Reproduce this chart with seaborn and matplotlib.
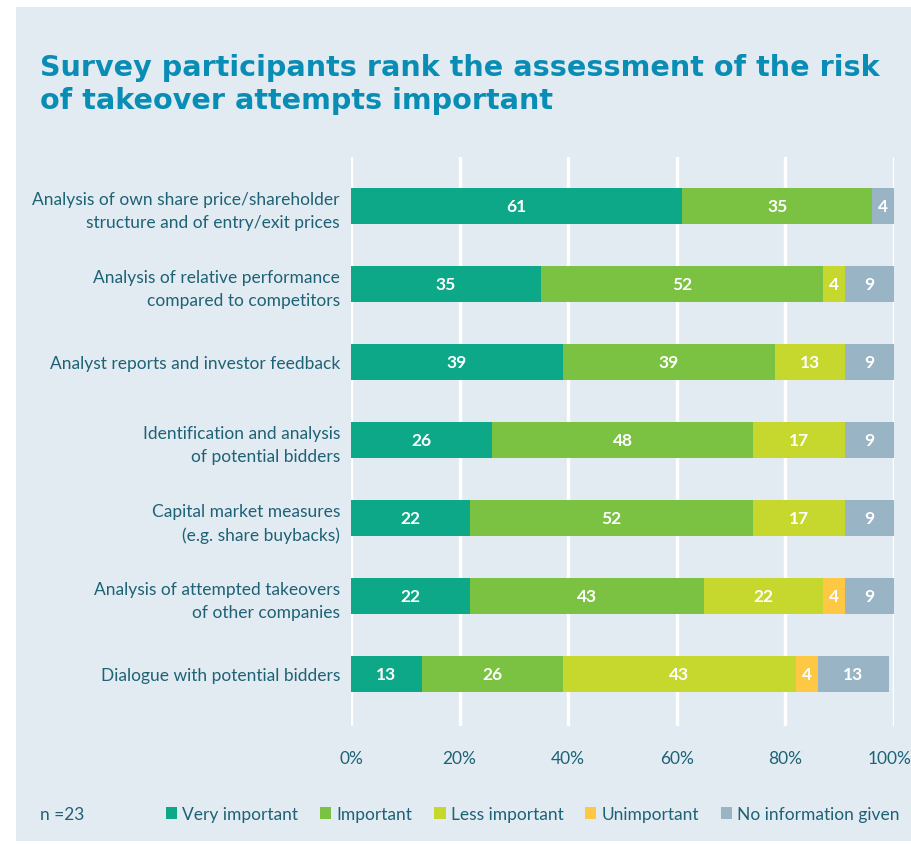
import matplotlib
matplotlib.use("Agg")
import matplotlib.pyplot as plt
from matplotlib.patches import Patch, Rectangle
from matplotlib.transforms import ScaledTranslation
import numpy as np
import pandas as pd
import seaborn as sns

# Survey answers, share of respondents in percent
categories = [
    "Analysis of own share price/shareholder\nstructure and of entry/exit prices",
    "Analysis of relative performance\ncompared to competitors",
    "Analyst reports and investor feedback",
    "Identification and analysis\nof potential bidders",
    "Capital market measures\n(e.g. share buybacks)",
    "Analysis of attempted takeovers\nof other companies",
    "Dialogue with potential bidders",
]
very_important = [61, 35, 39, 26, 22, 22, 13]
important = [35, 52, 39, 48, 52, 43, 26]
less_important = [0, 4, 13, 17, 17, 22, 43]
unimportant = [0, 0, 0, 0, 0, 4, 4]
no_information = [4, 9, 9, 9, 9, 9, 13]

series_names = ["Very important", "Important", "Less important",
                "Unimportant", "No information given"]
series_colors = ["#0ca887", "#7bc142", "#c6d82d", "#fec744", "#99b5c5"]
xticks = [0, 20, 40, 60, 80, 100]
xtick_labels = ["0%", "20%", "40%", "60%", "80%", "100%"]
sample_note = "n =23"
title = "Survey participants rank the assessment of the risk\nof takeover attempts important"

bg = "#e3ebf2"
text_color = "#1d6275"
title_color = "#0a8db5"

sns.set_theme(style="white")
plt.rcParams["font.family"] = ["Lato", "DejaVu Sans"]

df = pd.DataFrame({
    "category": categories,
    series_names[0]: very_important,
    series_names[1]: important,
    series_names[2]: less_important,
    series_names[3]: unimportant,
    series_names[4]: no_information,
})
values = df[series_names].to_numpy(dtype=float)
cum = np.cumsum(values, axis=1)

fig = plt.figure(figsize=(9.12, 8.45), dpi=100)
fig.patch.set_facecolor("white")
fig.patches.append(Rectangle((16 / 912, 0.003), 1 - 16 / 912, 1 - 8 / 845 - 0.003,
                             transform=fig.transFigure, facecolor=bg,
                             edgecolor="none", zorder=-10))

ax = fig.add_axes([351 / 912, 1 - 727 / 845, (894 - 351) / 912, (727 - 158) / 845])
ax.set_facecolor(bg)
ax.patch.set_alpha(0)

# stacked bars: draw cumulative totals from the outermost segment inwards
for j in range(len(series_names) - 1, -1, -1):
    sns.barplot(x=cum[:, j], y=df["category"], color=series_colors[j],
                orient="h", width=0.46, ax=ax, saturation=1, zorder=3,
                edgecolor="none", linewidth=0)

# segment value labels
for i in range(len(categories)):
    for j in range(len(series_names)):
        v = values[i, j]
        if v > 0:
            ax.text(cum[i, j] - v / 2, i, f"{int(v)}", ha="center", va="center",
                    color="white", fontsize=12.5, fontweight="bold", zorder=5)

ax.set_xlim(0, 100)
ax.set_ylim(6.667, -0.628)
ax.set_xticks(xticks)
ax.set_xticklabels(xtick_labels)
for x in xticks:
    ax.axvline(x, color="white", linewidth=2.4, zorder=1)
for s in ax.spines.values():
    s.set_visible(False)
ax.set_xlabel("")
ax.set_ylabel("")
ax.tick_params(axis="x", length=0, pad=17, labelsize=12.5, labelcolor=text_color)
ax.tick_params(axis="y", length=0, pad=8, labelsize=12.5, labelcolor=text_color)
for lbl in ax.get_yticklabels():
    lbl.set_multialignment("right")
    lbl.set_linespacing(1.5)
# keep the last percentage label inside the panel
last = ax.get_xticklabels()[-1]
last.set_transform(last.get_transform() + ScaledTranslation(-4 / 100, 0, fig.dpi_scale_trans))

fig.text(40 / 912, 1 - 54 / 845, title, ha="left", va="top", color=title_color,
         fontsize=20.6, fontweight="bold", family=["DejaVu Sans"],
         linespacing=1.22)

fig.text(40 / 912, 1 - 815 / 845, sample_note, ha="left", va="center",
         color=text_color, fontsize=12.5)

handles = [Patch(facecolor=c, edgecolor="none", label=n)
           for n, c in zip(series_names, series_colors)]
leg = fig.legend(handles=handles, loc="center left",
                 bbox_to_anchor=(166 / 912, 1 - 815 / 845), ncol=5, frameon=False,
                 handlelength=0.65, handleheight=0.75, handletextpad=0.3,
                 columnspacing=1.25, fontsize=12.5, labelcolor=text_color,
                 borderaxespad=0, borderpad=0)

fig.savefig("out.png", dpi=100, facecolor=fig.get_facecolor())
